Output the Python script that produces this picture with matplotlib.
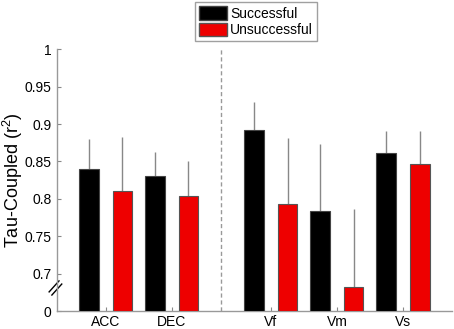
import matplotlib
matplotlib.use('Agg')
import matplotlib.pyplot as plt
from matplotlib.patches import Patch

plt.rcParams['font.family'] = ['Liberation Sans', 'DejaVu Sans']
plt.rcParams['mathtext.fontset'] = 'custom'
plt.rcParams['mathtext.rm'] = 'Liberation Sans'
plt.rcParams['mathtext.it'] = 'Liberation Sans'

labels = ['ACC', 'DEC', 'Vf', 'Vm', 'Vs']
positions = [1, 2, 3.5, 4.5, 5.5]
successful = [0.840, 0.830, 0.892, 0.784, 0.861]
successful_err = [0.040, 0.033, 0.037, 0.090, 0.030]
unsuccessful = [0.811, 0.804, 0.793, 0.682, 0.847]
unsuccessful_err = [0.072, 0.046, 0.088, 0.105, 0.044]

base = 0.65
fig = plt.figure(figsize=(4.54, 3.29), dpi=100)
ax = fig.add_axes([0.1256, 0.0547, 0.87, 0.7953])

w = 0.3
xs_s = [p - 0.255 for p in positions]
xs_u = [p + 0.25 for p in positions]
ax.bar(xs_s, [v - base for v in successful], w, bottom=base, color='black',
       edgecolor='#444444', linewidth=0.8, zorder=3)
ax.bar(xs_u, [v - base for v in unsuccessful], w, bottom=base, color='#ee0000',
       edgecolor='#555555', linewidth=0.8, zorder=3)
# upper error bars only
ax.errorbar(xs_s, successful, yerr=[[0] * 5, successful_err], fmt='none',
            ecolor='#888888', elinewidth=1, capsize=0, zorder=2)
ax.errorbar(xs_u, unsuccessful, yerr=[[0] * 5, unsuccessful_err], fmt='none',
            ecolor='#888888', elinewidth=1, capsize=0, zorder=2)

ax.axvline(2.75, color='#999999', linestyle='--', linewidth=1, dashes=(3, 2))

ax.set_xlim(0.26, 6.24)
ax.set_ylim(base, 1.0)
ax.set_xticks(positions)
ax.set_xticklabels(labels, fontsize=10)
yt = [0.65, 0.7, 0.75, 0.8, 0.85, 0.9, 0.95, 1.0]
ax.set_yticks(yt)
ax.set_yticklabels(['0', '0.7', '0.75', '0.8', '0.85', '0.9', '0.95', '1'], fontsize=10)
ax.tick_params(direction='in', length=3, color='#888888', pad=4)
ax.tick_params(axis='x', pad=3)
for s in ['top', 'right']:
    ax.spines[s].set_visible(False)
for s in ['left', 'bottom']:
    ax.spines[s].set_color('#999999')
    ax.spines[s].set_linewidth(1)
ax.set_ylabel('Tau-Coupled (r$^2$)', fontsize=13)
ax.yaxis.set_label_coords(-0.082, 0.5)

# axis break marks
ax.plot([-0.020, 0.005], [0.073, 0.115], transform=ax.transAxes,
        color='black', linewidth=1, clip_on=False)
ax.plot([-0.013, 0.012], [0.061, 0.103], transform=ax.transAxes,
        color='black', linewidth=1, clip_on=False)

handles = [Patch(facecolor='black', edgecolor='#444444', label='Successful'),
           Patch(facecolor='#ee0000', edgecolor='#555555', label='Unsuccessful')]
fig.legend(handles=handles, loc='upper left', bbox_to_anchor=(0.43, 0.993),
           fontsize=10, frameon=True, fancybox=False, edgecolor='#888888',
           handlelength=2.0, handleheight=1.1, handletextpad=0.2,
           borderpad=0.3, labelspacing=0.15, borderaxespad=0)

fig.savefig('out.png', dpi=100)
